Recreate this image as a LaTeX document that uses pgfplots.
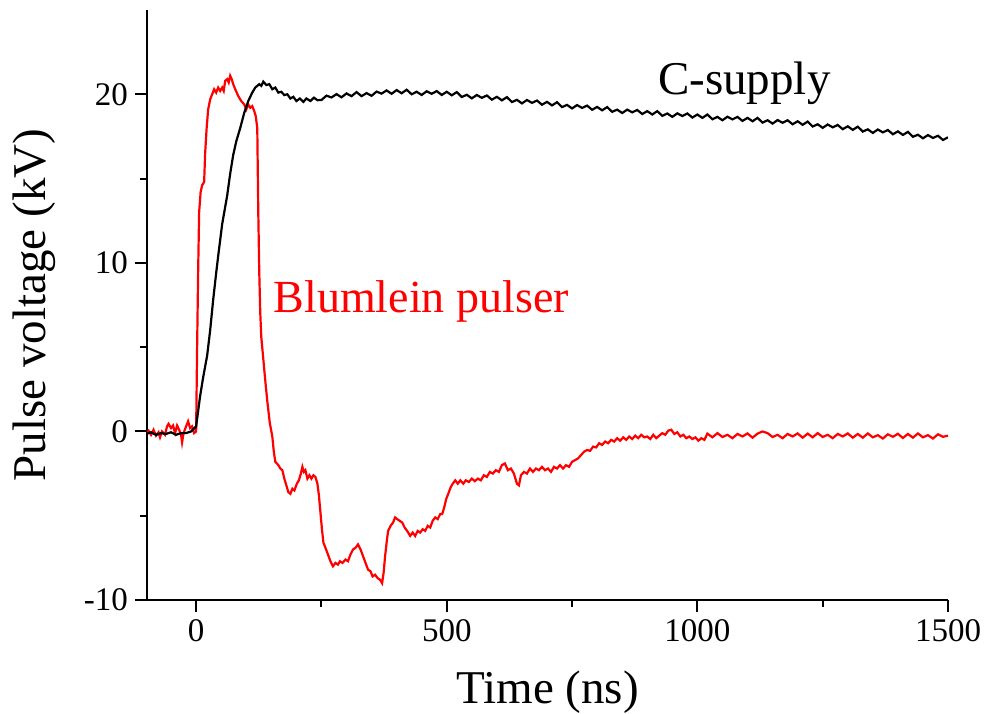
\documentclass[border=0pt]{standalone}
\usepackage{fontspec}
\setmainfont{Liberation Serif}
\usepackage{pgfplots}
\pgfplotsset{compat=1.18}

\definecolor{pulsered}{RGB}{255,0,0}

\begin{document}
\begin{tikzpicture}
\begin{axis}[
    name=ax,
    scale only axis,
    width=400.5pt, height=295pt,
    xmin=-98, xmax=1500,
    ymin=-10, ymax=25,
    axis x line=bottom, axis y line=left,
    axis line style={-, line width=1pt},
    xtick={0,500,1000,1500},
    ytick={-10,0,10,20},
    minor x tick num=1, minor y tick num=1,
    tick align=outside,
    major tick length=6pt, minor tick length=3.5pt,
    every tick/.style={black, line width=1pt},
    /pgf/number format/assume math mode=true,
    /pgf/number format/1000 sep={},
    tick label style={font=\fontsize{16.5}{18}\selectfont},
    label style={font=\fontsize{23.5}{26}\selectfont},
    xlabel={Time (ns)},
    ylabel={Pulse voltage (kV)},
    xlabel style={at={(axis description cs:0.5,-0.1746)}, anchor=base},
    ylabel style={at={(axis description cs:-0.1273,0.5)}, anchor=base},
    clip=true,
]
% Blumlein pulser
\addplot[pulsered, line width=1.1pt] coordinates {
(-100,-0.1)(-95,0.05)(-90,-0.2)(-85,0.1)(-80,-0.25)(-75,-0.05)(-72,-0.35)(-68,0.0)
(-62,-0.2)(-58,0.3)(-55,0.45)(-50,0.2)(-46,0.35)(-42,-0.1)(-38,0.35)(-34,0.1)
(-30,-0.2)(-28,-0.65)(-25,-0.1)(-20,0.3)(-16,0.6)(-12,0.2)(-8,0.3)(-4,-0.1)
(0,0.0)(2,5.0)(4,9.4)(6,13.0)(9,14.2)(12,14.6)(16,14.8)(18,16.5)(21,18.0)
(24,19.1)(28,19.7)(32,20.0)(36,20.3)(40,20.1)(44,20.4)(48,20.2)(52,20.4)
(55,20.2)(58,20.8)(62,20.9)(65,20.7)(68,21.1)(71,20.9)(74,20.6)(78,20.3)
(84,19.9)(90,19.6)(96,19.4)(100,19.1)(104,19.4)(108,19.2)(112,19.3)(116,19.0)
(119,18.7)(122,18.0)(124,13.0)(126,9.4)(128,7.0)(130,5.6)(134,4.3)(138,3.0)
(142,1.8)(147,0.5)(152,-0.3)(155,-1.2)(158,-1.8)(164,-2.0)(168,-2.2)(172,-2.3)
(176,-2.8)(180,-3.2)(184,-3.6)(188,-3.7)(192,-3.4)(196,-3.5)(201,-3.1)(205,-2.9)
(209,-2.5)(212,-2.1)(215,-2.4)(218,-2.3)(222,-2.8)(226,-2.6)(230,-2.8)(234,-2.6)
(238,-2.7)(242,-3.1)(245,-3.8)(248,-4.8)(251,-5.8)(254,-6.6)(258,-6.9)(263,-7.3)
(268,-7.7)(273,-8.0)(278,-7.8)(283,-7.9)(287,-7.7)(292,-7.8)(298,-7.6)(303,-7.7)
(308,-7.3)(313,-7.0)(318,-6.9)(323,-6.7)(328,-7.0)(333,-7.4)(338,-7.8)(343,-8.2)
(348,-8.3)(352,-8.6)(357,-8.5)(362,-8.7)(367,-8.8)(371,-9.0)(374,-8.4)(377,-7.4)
(380,-6.6)(383,-5.9)(388,-5.6)(393,-5.4)(397,-5.1)(401,-5.2)(406,-5.3)(411,-5.4)
(416,-5.7)(421,-5.9)(427,-6.2)(432,-6.0)(437,-6.2)(442,-5.9)(447,-6.0)(452,-5.8)
(457,-5.9)(462,-5.6)(467,-5.7)(472,-5.3)(477,-5.1)(482,-5.2)(487,-4.9)(491,-4.9)
(495,-4.5)(499,-4.0)(503,-3.7)(508,-3.3)(512,-3.1)(517,-2.9)(522,-3.1)(527,-2.9)
(533,-3.1)(538,-2.9)(544,-3.0)(550,-2.8)(556,-2.95)(562,-2.8)(568,-2.9)(574,-2.6)
(580,-2.7)(586,-2.4)(592,-2.5)(598,-2.3)(604,-2.4)(610,-2.0)(616,-1.9)(622,-2.3)
(628,-2.2)(634,-2.5)(640,-3.1)(644,-3.2)(648,-2.6)(654,-2.4)(660,-2.5)(666,-2.2)
(672,-2.4)(678,-2.2)(684,-2.3)(690,-2.1)(696,-2.3)(702,-2.2)(708,-2.4)(714,-2.1)
(720,-2.2)(726,-2.0)(732,-2.2)(738,-2.0)(744,-2.1)(750,-1.8)(756,-1.7)(762,-1.6)
(768,-1.4)(774,-1.2)(780,-1.1)(786,-1.15)(792,-0.9)(798,-0.95)(804,-0.7)(810,-0.8)
(816,-0.6)(822,-0.7)(828,-0.5)(834,-0.6)(840,-0.4)(846,-0.55)(852,-0.35)(858,-0.5)
(864,-0.3)(870,-0.45)(876,-0.25)(882,-0.4)(888,-0.2)(894,-0.35)(900,-0.3)(906,-0.45)
(912,-0.2)(918,-0.4)(924,-0.25)(930,-0.1)(936,-0.2)(942,0.05)(948,0.1)(954,-0.15)
(960,-0.05)(966,-0.3)(972,-0.2)(978,-0.4)(984,-0.3)(990,-0.45)(996,-0.35)(1002,-0.55)
(1008,-0.4)(1014,-0.5)(1020,-0.13)(1030,-0.35)(1040,-0.10)(1050,-0.33)(1060,-0.20)
(1070,-0.40)(1080,-0.15)(1090,-0.30)(1100,-0.12)(1110,-0.37)(1120,-0.13)(1130,0.0)
(1140,-0.10)(1150,-0.33)(1160,-0.20)(1170,-0.40)(1180,-0.15)(1190,-0.30)(1200,-0.12)
(1210,-0.37)(1220,-0.13)(1230,-0.35)(1240,-0.10)(1250,-0.33)(1260,-0.20)(1270,-0.40)
(1280,-0.15)(1290,-0.30)(1300,-0.12)(1310,-0.37)(1320,-0.15)(1330,-0.37)(1340,-0.12)
(1350,-0.35)(1360,-0.22)(1370,-0.42)(1380,-0.17)(1390,-0.32)(1400,-0.14)(1410,-0.39)
(1420,-0.15)(1430,-0.37)(1440,-0.12)(1450,-0.35)(1460,-0.22)(1470,-0.42)(1480,-0.17)
(1490,-0.32)(1500,-0.25)
};
% C-supply
\addplot[black, line width=1.1pt] coordinates {
(-100,-0.15)(-90,-0.05)(-80,-0.2)(-70,-0.1)(-60,-0.15)(-50,-0.05)(-40,-0.2)
(-30,-0.1)(-20,-0.1)(-10,0.0)(-5,0.15)(0,0.3)(4,1.2)(8,2.1)(14,3.2)(22,4.5)
(28,6.0)(34,7.8)(40,9.4)(44,10.4)(52,12.3)(62,14.0)(68,15.3)(74,16.4)(80,17.2)
(88,18.0)(96,18.9)(104,19.6)(112,20.1)(118,20.4)(126,20.6)(130,20.5)(134,20.75)
(140,20.55)(146,20.6)(152,20.3)(158,20.4)(164,20.1)(170,20.15)(176,19.95)(182,20.0)
(188,19.75)(194,19.85)(200,19.6)(207,19.75)(214,19.55)(220,19.75)(228,19.6)
(235,19.8)(242,19.65)
(250,19.66)(260,19.92)(270,19.81)(280,20.01)(290,19.82)(300,20.05)(310,19.89)
(320,20.13)(330,19.89)(340,20.07)(350,19.91)(360,20.16)(370,20.04)(380,20.23)
(390,20.03)(400,20.25)(410,20.06)(420,20.27)(430,20.00)(440,20.15)(450,19.96)
(460,20.18)(470,20.03)(480,20.19)(490,19.96)(500,20.15)(510,19.94)(520,20.13)
(530,19.84)(540,19.97)(550,19.76)(560,19.96)(570,19.79)(580,19.93)(590,19.68)
(600,19.85)(610,19.64)(620,19.83)(630,19.54)(640,19.67)(650,19.46)(660,19.66)
(670,19.49)(680,19.63)(690,19.38)(700,19.55)(710,19.34)(720,19.53)(730,19.24)
(740,19.37)(750,19.16)(760,19.36)(770,19.19)(780,19.33)(790,19.08)(800,19.25)
(810,19.05)(820,19.24)(830,18.96)(840,19.09)(850,18.89)(860,19.09)(870,18.93)
(880,19.07)(890,18.83)(900,19.00)(910,18.80)(920,19.00)(930,18.72)(940,18.86)
(950,18.66)(960,18.87)(970,18.71)(980,18.86)(990,18.62)(1000,18.80)(1010,18.60)
(1020,18.80)(1030,18.52)(1040,18.66)(1050,18.46)(1060,18.67)(1070,18.51)(1080,18.66)
(1090,18.42)(1100,18.60)(1110,18.40)(1120,18.60)(1130,18.32)(1140,18.46)(1150,18.26)
(1160,18.47)(1170,18.31)(1180,18.46)(1190,18.22)(1200,18.40)(1210,18.19)(1220,18.38)
(1230,18.09)(1240,18.22)(1250,18.01)(1260,18.21)(1270,18.04)(1280,18.18)(1290,17.93)
(1300,18.10)(1310,17.89)(1320,18.08)(1330,17.79)(1340,17.92)(1350,17.71)(1360,17.91)
(1370,17.74)(1380,17.88)(1390,17.63)(1400,17.80)(1410,17.59)(1420,17.77)(1430,17.48)
(1440,17.60)(1450,17.39)(1460,17.58)(1470,17.41)(1480,17.54)(1490,17.29)(1500,17.45)
};
\node[anchor=base west, inner sep=0pt, text=pulsered, font=\fontsize{23}{26}\selectfont]
    at (axis cs:154,7.05) {Blumlein pulser};
\node[anchor=base west, inner sep=0pt, font=\fontsize{23.5}{26}\selectfont]
    at (axis cs:921,20.0) {C-supply};
\end{axis}
\pgfresetboundingbox
\path[use as bounding box] ([shift={(-73.5pt,-56.5pt)}]ax.south west) rectangle ([shift={(18.5pt,5pt)}]ax.north east);
\end{tikzpicture}
\end{document}
